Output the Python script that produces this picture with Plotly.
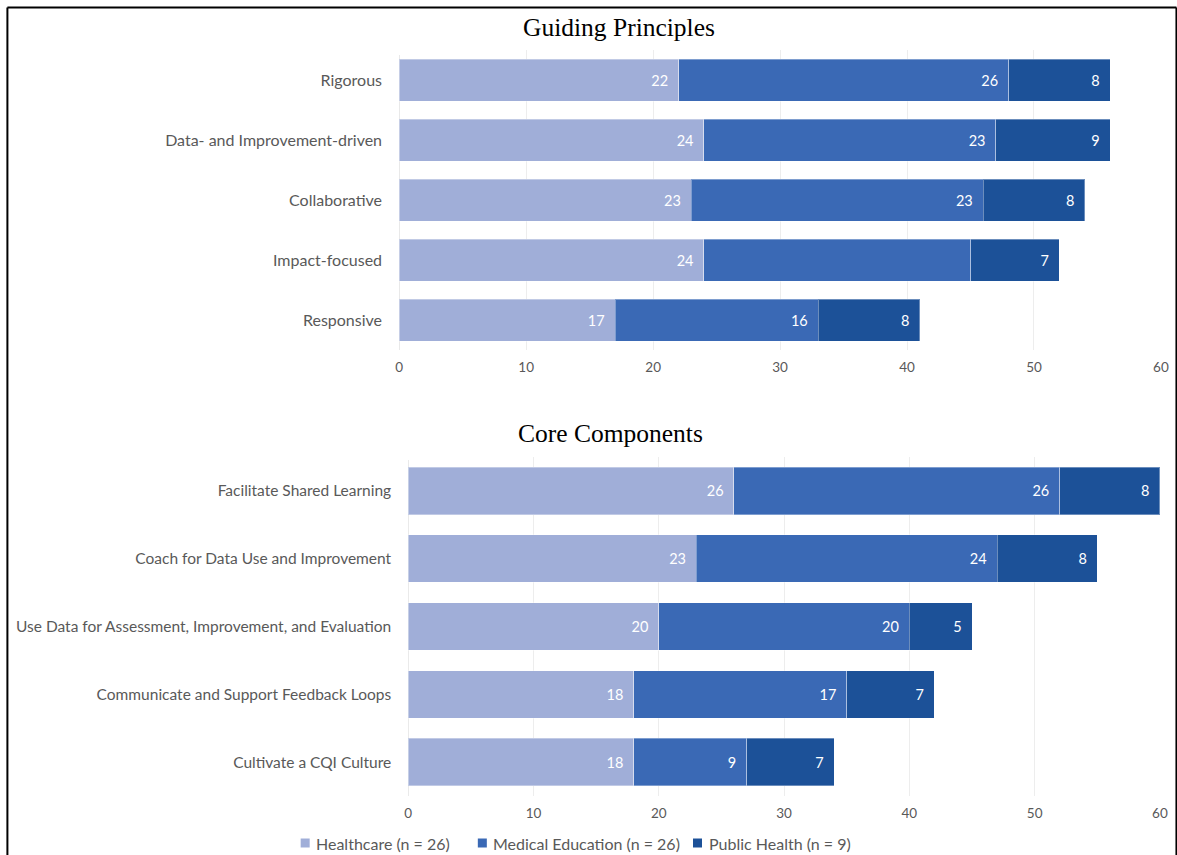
import plotly.graph_objects as go

W, H = 1186, 855

# Guiding Principles (top to bottom)
gp_categories = ["Rigorous", "Data- and Improvement-driven", "Collaborative", "Impact-focused", "Responsive"]
gp_healthcare = [22, 24, 23, 24, 17]
gp_meded = [26, 23, 23, 21, 16]
gp_public = [8, 9, 8, 7, 8]
gp_meded_labels = ["26", "23", "23", "", "16"]

# Core Components (top to bottom)
cc_categories = ["Facilitate Shared Learning", "Coach for Data Use and Improvement",
                 "Use Data for Assessment, Improvement, and Evaluation",
                 "Communicate and Support Feedback Loops", "Cultivate a CQI Culture"]
cc_healthcare = [26, 23, 20, 18, 18]
cc_meded = [26, 24, 20, 17, 9]
cc_public = [8, 8, 5, 7, 7]

series_names = ["Healthcare (n = 26)", "Medical Education (n = 26)", "Public Health (n = 9)"]
colors = ["#A0AED8", "#3A69B5", "#1C5198"]

x_ticks = [0, 10, 20, 30, 40, 50, 60]

FONT = "Lato"
GREY = "#595959"
PAD = "\u00a0\u00a0"


def px(r):
    # horizontal pixel position (as photographed) -> paper fraction
    return (r - 4.1) / 0.989 / W


def py(r):
    return 1 - r / H


fig = go.Figure()


def add_group(cats, vals, labels, xa, ya):
    for i, (v, lab) in enumerate(zip(vals, labels)):
        fig.add_trace(go.Bar(
            y=cats, x=v, orientation="h", name=series_names[i],
            marker=dict(color=colors[i], line=dict(color="rgba(255,255,255,0.35)", width=1)),
            text=[(t + PAD) if t else "" for t in lab], textposition="inside", insidetextanchor="end",
            textfont=dict(color="white", size=14.5, family=FONT),
            xaxis=xa, yaxis=ya, showlegend=False,
        ))


add_group(gp_categories, [gp_healthcare, gp_meded, gp_public],
          [[str(v) for v in gp_healthcare], gp_meded_labels, [str(v) for v in gp_public]],
          "x", "y")
add_group(cc_categories, [cc_healthcare, cc_meded, cc_public],
          [[str(v) for v in cc_healthcare], [str(v) for v in cc_meded], [str(v) for v in cc_public]],
          "x2", "y2")

xaxis_common = dict(range=[0, 60], tickvals=x_ticks, showgrid=True, gridcolor="#EDEDED",
                    gridwidth=1, zeroline=False, showline=False,
                    tickfont=dict(size=13.5, color=GREY, family=FONT),
                    ticks="outside", ticklen=5, tickcolor="rgba(0,0,0,0)", fixedrange=True)
yaxis_common = dict(autorange="reversed", showline=False, showgrid=False,
                    ticks="outside", ticklen=13, tickcolor="rgba(0,0,0,0)")

legend_marker_x = [305, 482, 697]
legend_y = 843
annotations = [
    dict(text="Guiding Principles", x=px(619), y=py(28), xref="paper", yref="paper",
         showarrow=False, font=dict(family="Liberation Serif", size=25.5, color="black"),
         xanchor="center", yanchor="middle"),
    dict(text="Core Components", x=px(610), y=py(433), xref="paper", yref="paper",
         showarrow=False, font=dict(family="Liberation Serif", size=25.5, color="black"),
         xanchor="center", yanchor="middle"),
]
shapes = [
    dict(type="line", xref="paper", yref="paper", x0=px(7.5), x1=px(7.5), y0=0, y1=py(7.5),
         line=dict(color="black", width=2)),
    dict(type="line", xref="paper", yref="paper", x0=px(7.5), x1=px(1175.5), y0=py(7.5), y1=py(7.5),
         line=dict(color="black", width=2)),
    dict(type="line", xref="paper", yref="paper", x0=px(1175.5), x1=px(1175.5), y0=0, y1=py(7.5),
         line=dict(color="black", width=2)),
    dict(type="line", xref="x", yref="paper", x0=0, x1=0, y0=py(350), y1=py(55),
         line=dict(color="#D9D9D9", width=1), layer="below"),
    dict(type="line", xref="x2", yref="paper", x0=0, x1=0, y0=py(796), y1=py(460),
         line=dict(color="#D9D9D9", width=1), layer="below"),
]
for mx, name, col in zip(legend_marker_x, series_names, colors):
    shapes.append(dict(type="rect", xref="paper", yref="paper",
                       x0=px(mx - 4.5), x1=px(mx + 4.5),
                       y0=py(legend_y + 4.5), y1=py(legend_y - 4.5),
                       fillcolor=col, line=dict(width=0)))
    annotations.append(dict(text=name, x=px(mx + 9), y=py(legend_y), xref="paper", yref="paper",
                            showarrow=False, xanchor="left", yanchor="middle",
                            font=dict(size=16, color=GREY, family=FONT)))

fig.update_layout(
    width=W, height=H,
    margin=dict(l=0, r=0, t=0, b=0),
    paper_bgcolor="white", plot_bgcolor="white",
    barmode="stack", bargap=0.3,
    xaxis=dict(domain=[px(399), px(1160)], anchor="y", **xaxis_common),
    yaxis=dict(domain=[py(350), py(50)], anchor="x",
               tickfont=dict(size=16, color=GREY, family=FONT), **yaxis_common),
    xaxis2=dict(domain=[px(408), px(1159)], anchor="y2", **xaxis_common),
    yaxis2=dict(domain=[py(796), py(457)], anchor="x2",
                tickfont=dict(size=15.5, color=GREY, family=FONT), **yaxis_common),
    showlegend=False,
    annotations=annotations,
    shapes=shapes,
)

fig.write_html("out.html")
